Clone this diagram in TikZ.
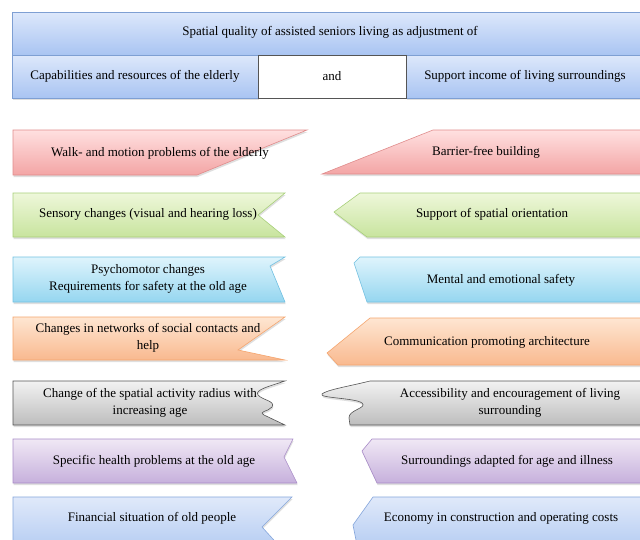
\documentclass[tikz,border=0pt]{standalone}
\usepackage{fontspec}
\setmainfont{Liberation Serif}
\usetikzlibrary{shadows}
\definecolor{hdt}{HTML}{DDE8FB}
\definecolor{hdb}{HTML}{A9C4F2}
\definecolor{hdd}{HTML}{7E9FD3}
\definecolor{ret}{HTML}{FFE0E0}
\definecolor{reb}{HTML}{F3A5A5}
\definecolor{red}{HTML}{E08C8C}
\definecolor{grt}{HTML}{EEF7DA}
\definecolor{grb}{HTML}{C8E49E}
\definecolor{grd}{HTML}{A8D07A}
\definecolor{cyt}{HTML}{DFF4FC}
\definecolor{cyb}{HTML}{95D6F0}
\definecolor{cyd}{HTML}{72C1E2}
\definecolor{ort}{HTML}{FEE6D2}
\definecolor{orb}{HTML}{F9B98F}
\definecolor{ord}{HTML}{F5A56E}
\definecolor{gyt}{HTML}{F2F2F2}
\definecolor{gyb}{HTML}{BDBDBD}
\definecolor{gyd}{HTML}{555555}
\definecolor{put}{HTML}{F0E8F5}
\definecolor{pub}{HTML}{C6B0DC}
\definecolor{pud}{HTML}{A98CC8}
\definecolor{lbt}{HTML}{E0E9FA}
\definecolor{lbb}{HTML}{ABC6F0}
\definecolor{lbd}{HTML}{85A6DC}

\tikzset{
  piece/.style={line width=0.6pt, drop shadow={opacity=0.25, shadow xshift=0.6pt, shadow yshift=-2pt}},
  hdpiece/.style={piece, top color=hdt, bottom color=hdb, draw=hdd},
  repiece/.style={piece, top color=ret, bottom color=reb, draw=red},
  grpiece/.style={piece, top color=grt, bottom color=grb, draw=grd},
  cypiece/.style={piece, top color=cyt, bottom color=cyb, draw=cyd},
  orpiece/.style={piece, top color=ort, bottom color=orb, draw=ord},
  gypiece/.style={piece, top color=gyt, bottom color=gyb, draw=gyd},
  pupiece/.style={piece, top color=put, bottom color=pub, draw=pud},
  lbpiece/.style={piece, top color=lbt, bottom color=lbb, draw=lbd},
  lbl/.style={font=\fontsize{13}{16.5}\selectfont, align=center, inner sep=0pt}
}

\begin{document}
\begin{tikzpicture}[x=1pt, y=-1pt]

  \clip (0,0) rectangle (640,539);
  \fill[white] (0,0) rectangle (640,539);

  % Header
  \draw[hdpiece] (12,12) rectangle (648,55);
  \node[lbl] (title) at (330,32) {Spatial quality of assisted seniors living as adjustment of};
  \draw[hdpiece] (12,55) rectangle (258,98);
  \node[lbl] (elderly) at (135,76) {Capabilities and resources of the elderly};
  \draw[hdpiece] (406,55) rectangle (648,98);
  \node[lbl] (support) at (525,76) {Support income of living surroundings};
  \filldraw[fill=white, draw=gyd, line width=0.8pt] (258,55) rectangle (406,98);
  \node[lbl] (and) at (332,76) {and};

  % Walk / barrier-free
  \draw[repiece] (13,130) -- (307,130) -- (197,175) -- (13,175) -- cycle;
  \node[lbl] (walk) at (160,153) {Walk- and motion problems of the elderly};
  \draw[repiece] (433,130) -- (648,130) -- (648,174) -- (322,174) -- cycle;
  \node[lbl] (barrier) at (486,152) {Barrier-free building};

  % Sensory / orientation
  \draw[grpiece] (13,193) -- (285,193) -- (258,215) -- (285,237) -- (13,237) -- cycle;
  \node[lbl] (sensory) at (148,214) {Sensory changes (visual and hearing loss)};
  \draw[grpiece] (360,193) -- (648,193) -- (648,237) -- (367,237) -- (334,212) -- cycle;
  \node[lbl] (orient) at (492,214) {Support of spatial orientation};

  % Psychomotor / safety
  \draw[cypiece] (13,257) -- (285,257) -- (270,266) -- (285,302) -- (13,302) -- cycle;
  \node[lbl] (psycho) at (148,279) {Psychomotor changes\\Requirements for safety at the old age};
  \draw[cypiece] (360,257) -- (648,257) -- (648,302) -- (367,302) -- (354,263) -- cycle;
  \node[lbl] (mental) at (501,280) {Mental and emotional safety};

  % Social contacts / communication
  \draw[orpiece] (13,317) -- (285,317) -- (238,350) -- (285,360) -- (13,360) -- cycle;
  \node[lbl] (social) at (148,338) {Changes in networks of social contacts and\\help};
  \draw[orpiece] (370,318) -- (648,318) -- (648,365) -- (338,365) -- (327,353) -- cycle;
  \node[lbl] (commun) at (487,342) {Communication promoting architecture};

  % Activity radius / accessibility
  \draw[gypiece] (13,381) -- (285,381)
    .. controls (270,386) and (254,390) .. (258,395)
    .. controls (262,400) and (276,401) .. (272,407)
    .. controls (268,412) and (258,411) .. (264,415) -- (285,425) -- (13,425) -- cycle;
  \node[lbl] (radius) at (150,403) {Change of the spatial activity radius with\\increasing age};
  \draw[gypiece] (370,381) -- (648,381) -- (648,425) -- (350,425) -- (349,418)
    .. controls (348,410) and (368,408) .. (362,403)
    .. controls (356,398) and (318,398) .. (322,394)
    .. controls (326,390) and (350,386) .. (370,381) -- cycle;
  \node[lbl] (access) at (510,403) {Accessibility and encouragement of living\\surrounding};

  % Health / adapted surroundings
  \draw[pupiece] (13,439) -- (293,439) -- (284,457) -- (297,483) -- (13,483) -- cycle;
  \node[lbl] (health) at (154,461) {Specific health problems at the old age};
  \draw[pupiece] (372,439) -- (648,439) -- (648,483) -- (377,483) -- (362,451) -- cycle;
  \node[lbl] (adapted) at (507,461) {Surroundings adapted for age and illness};

  % Financial / economy
  \draw[lbpiece] (13,497) -- (292,497) -- (262,527) -- (292,560) -- (13,560) -- cycle;
  \node[lbl] (finance) at (152,518) {Financial situation of old people};
  \draw[lbpiece] (373,497) -- (648,497) -- (648,560) -- (360,560) -- (353,525) -- cycle;
  \node[lbl] (economy) at (501,518) {Economy in construction and operating costs};
\end{tikzpicture}
\end{document}
